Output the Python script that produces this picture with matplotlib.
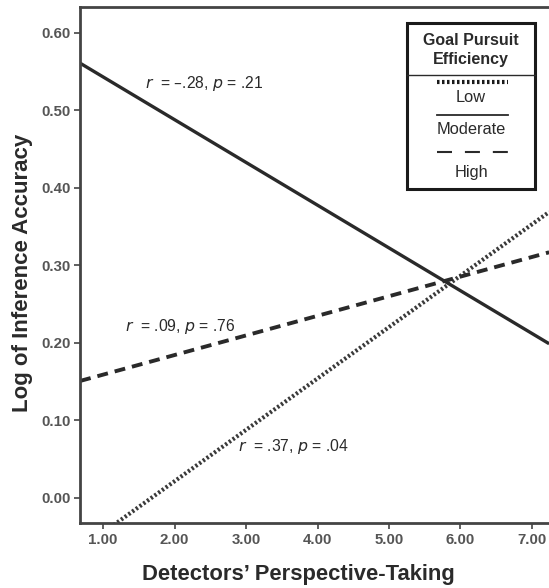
import matplotlib.pyplot as plt
from matplotlib.lines import Line2D

plt.rcParams['font.family'] = ['Liberation Sans', 'DejaVu Sans']

# fitted lines, read at the left and right edges of the plot area
x_ends = [0.68, 7.24]
groups = ['Low', 'Moderate', 'High']
low_y = [-0.066, 0.369]
moderate_y = [0.561, 0.199]
high_y = [0.151, 0.317]

# annotation text positions (x, y) and stats
stats_r = ['.37', '\u2013.28', '.09']
stats_p = ['.04', '.21', '.76']
stats_xy = [(2.89, 0.066), (1.59, 0.535), (1.31, 0.221)]

x_ticks = [1, 2, 3, 4, 5, 6, 7]
y_ticks = [0.0, 0.1, 0.2, 0.3, 0.4, 0.5, 0.6]

ink = '#2a2a2a'
styles = {
    'Low': dict(linestyle=(0, (0.55, 0.55)), linewidth=3.0, color='#3a3a3a'),
    'Moderate': dict(linestyle='-', linewidth=2.4, color=ink),
    'High': dict(linestyle=(0, (2.8, 1.8)), linewidth=2.8, color=ink),
}

fig = plt.figure(figsize=(5.49, 5.88), dpi=100)
ax = fig.add_axes([80 / 549, 1 - 523 / 588, 1 - 80 / 549, 516 / 588])

for name, ys in zip(groups, [low_y, moderate_y, high_y]):
    ax.plot(x_ends, ys, **styles[name], solid_capstyle='butt')

for r, p, (tx, ty) in zip(stats_r, stats_p, stats_xy):
    ax.text(tx, ty, f'$r$  = {r}, $p$ = {p}', fontsize=11.3, color=ink,
            va='center', ha='left')

ax.set_xlim(0.678, 7.238)
ax.set_ylim(-0.0323, 0.6335)
ax.set_xticks(x_ticks)
ax.set_xticklabels([f'{v:.2f}' for v in x_ticks])
ax.set_yticks(y_ticks)
ax.set_yticklabels([f'{v:.2f}' for v in y_ticks])
ax.tick_params(direction='out', length=4, width=1.2, color='#444',
               labelsize=10.8, labelcolor='#555', pad=3)
for lab in ax.get_xticklabels() + ax.get_yticklabels():
    lab.set_fontweight('bold')

for side in ['left', 'bottom', 'top']:
    ax.spines[side].set_linewidth(2.0)
    ax.spines[side].set_color('#444')
ax.spines['right'].set_visible(False)

ax.set_xlabel('Detectors\u2019 Perspective-Taking', fontsize=15.8,
              fontweight='bold', color=ink)
ax.xaxis.set_label_coords(0.465, -0.079)
ax.set_ylabel('Log of Inference Accuracy', fontsize=16,
              fontweight='bold', color=ink)
ax.yaxis.set_label_coords(-0.100, 0.4845)

# hand-drawn legend box in figure pixels
W, H = 549, 588


def fx(px):
    return px / W


def fy(py):
    return 1 - py / H


box = plt.Rectangle((fx(407), fy(189)), fx(535) - fx(407), fy(23) - fy(189),
                    transform=fig.transFigure, fill=True, facecolor='white',
                    edgecolor='#1a1a1a', linewidth=2.2, zorder=5)
fig.add_artist(box)
fig.text(fx(471), fy(50), 'Goal Pursuit\nEfficiency', ha='center',
         va='center', fontsize=11.5, fontweight='bold', color=ink,
         linespacing=1.3, zorder=6)
fig.add_artist(Line2D([fx(407), fx(535)], [fy(75), fy(75)],
                      transform=fig.transFigure, color=ink, lw=1.0, zorder=6))

legend_rows = [82, 115, 152]
label_rows = [98, 130, 173]
legend_styles = {
    'Low': dict(linestyle=(0, (0.6, 0.6)), linewidth=3.0, color='#1a1a1a'),
    'Moderate': dict(linestyle='-', linewidth=1.3, color=ink),
    'High': dict(linestyle=(0, (7.2, 6.2)), linewidth=1.5, color=ink),
}
for name, ly, ty in zip(groups, legend_rows, label_rows):
    fig.add_artist(Line2D([fx(437), fx(508)], [fy(ly), fy(ly)],
                          transform=fig.transFigure, zorder=6,
                          **legend_styles[name]))
    fig.text(fx(471), fy(ty), name, ha='center', va='center', fontsize=11.8,
             color=ink, zorder=6)

fig.savefig('out.png', dpi=100)
